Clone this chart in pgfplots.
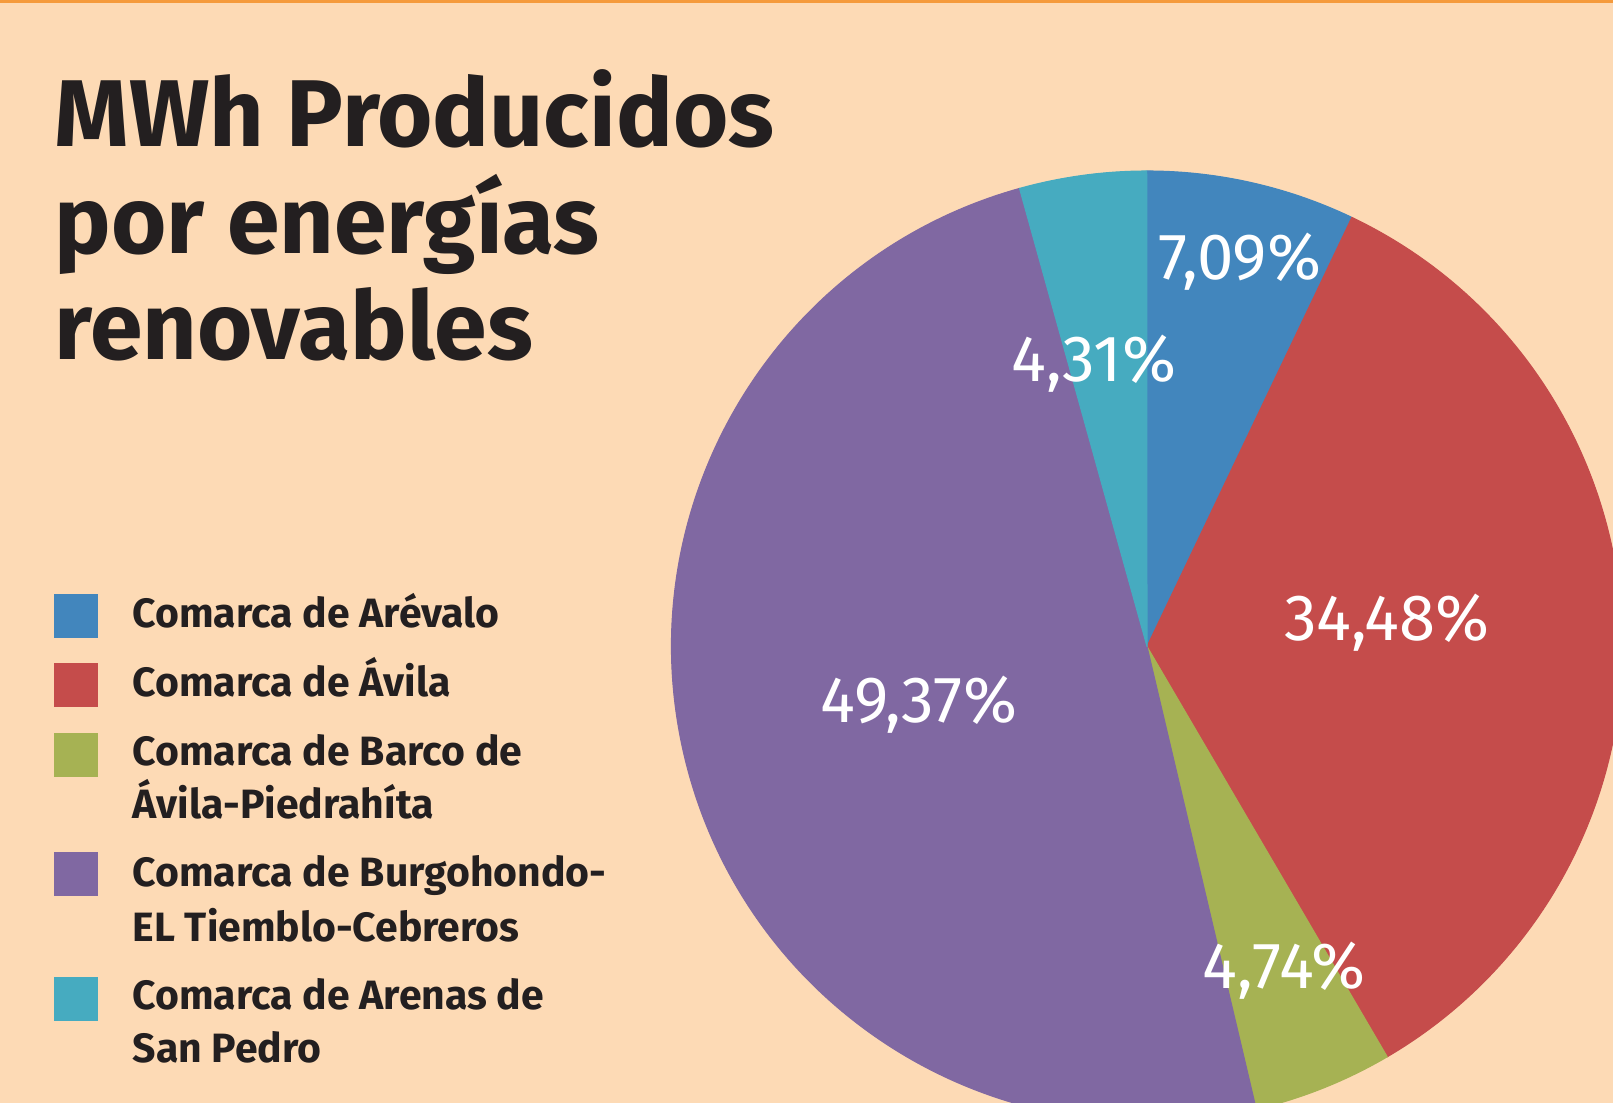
\documentclass[border=0pt]{standalone}
\usepackage{pgfplots}
\pgfplotsset{compat=1.18}
\usepackage{fontspec}
\setmainfont{Fira Sans}

\definecolor{bgpeach}{HTML}{FDDAB5}
\definecolor{topline}{HTML}{F59A3C}
\definecolor{darktext}{HTML}{231F20}
\definecolor{cArevalo}{HTML}{4286BD}
\definecolor{cAvila}{HTML}{C54C4B}
\definecolor{cBarco}{HTML}{A6B253}
\definecolor{cBurgo}{HTML}{8068A2}
\definecolor{cArenas}{HTML}{46ABC0}

% shares in percent, clockwise from the top
\def\pArevalo{7.09}
\def\pAvila{34.48}
\def\pBarco{4.74}
\def\pBurgo{49.37}
\def\pArenas{4.31}

% pie centre and radius (axis units = cm)
\def\cx{11.47}
\def\cy{4.565}
\def\rad{4.755}

% #1 colour, #2 share already used, #3 share of this slice
\newcommand\slice[3]{%
  \filldraw[fill=#1, draw=#1, line width=0.3pt, line join=round]
    (axis cs:\cx,\cy) -- ++({90-3.6*(#2)}:\rad)
    arc[start angle={90-3.6*(#2)}, delta angle={-3.6*(#3)}, radius=\rad] -- cycle;}

\begin{document}
\begin{tikzpicture}
\begin{axis}[
  x=1cm, y=1cm,
  xmin=0, xmax=16.13, ymin=0, ymax=11.03,
  hide axis, clip=true]

\fill[bgpeach] (axis cs:0,0) rectangle (axis cs:16.13,11.03);
\fill[topline] (axis cs:0,11.0) rectangle (axis cs:16.13,11.03);

\slice{cArevalo}{0}{\pArevalo}
\slice{cAvila}{\pArevalo}{\pAvila}
\slice{cBarco}{\pArevalo+\pAvila}{\pBarco}
\slice{cBurgo}{\pArevalo+\pAvila+\pBarco}{\pBurgo}
\slice{cArenas}{\pArevalo+\pAvila+\pBarco+\pBurgo}{\pArenas}

\tikzset{lab/.style={anchor=base, inner sep=0pt, text=white,
  font=\fontsize{18.6}{22}\selectfont}}
\node[lab] at (axis cs:12.40,8.23) {7,09\%};
\node[lab] at (axis cs:13.87,4.62) {34,48\%};
\node[lab] at (axis cs:12.84,1.14) {4,74\%};
\node[lab] at (axis cs:9.19,3.80) {49,37\%};
\node[lab] at (axis cs:10.94,7.21) {4,31\%};

\tikzset{ttl/.style={anchor=base west, inner sep=0pt, text=darktext,
  font=\fontsize{27}{30}\selectfont\bfseries}}
\node[ttl] at (axis cs:0.54,9.56) {MWh Producidos};
\node[ttl] at (axis cs:0.54,8.49) {por energías};
\node[ttl] at (axis cs:0.54,7.43) {renovables};

\fill[cArevalo] (axis cs:0.54,4.65) rectangle (axis cs:0.98,5.09);
\fill[cAvila]   (axis cs:0.54,3.96) rectangle (axis cs:0.98,4.40);
\fill[cBarco]   (axis cs:0.54,3.26) rectangle (axis cs:0.98,3.70);
\fill[cBurgo]   (axis cs:0.54,2.07) rectangle (axis cs:0.98,2.51);
\fill[cArenas]  (axis cs:0.54,0.82) rectangle (axis cs:0.98,1.26);

\tikzset{leg/.style={anchor=base west, inner sep=0pt, text=darktext,
  font=\fontsize{11.65}{14}\selectfont\bfseries}}
\node[leg] at (axis cs:1.32,4.75) {Comarca de Arévalo};
\node[leg] at (axis cs:1.32,4.06) {Comarca de Ávila};
\node[leg] at (axis cs:1.32,3.37) {Comarca de Barco de};
\node[leg] at (axis cs:1.32,2.84) {Ávila-Piedrahíta};
\node[leg] at (axis cs:1.32,2.16) {Comarca de Burgohondo-};
\node[leg] at (axis cs:1.32,1.61) {EL Tiemblo-Cebreros};
\node[leg] at (axis cs:1.32,0.93) {Comarca de Arenas de};
\node[leg] at (axis cs:1.32,0.40) {San Pedro};

\end{axis}
\end{tikzpicture}
\end{document}
